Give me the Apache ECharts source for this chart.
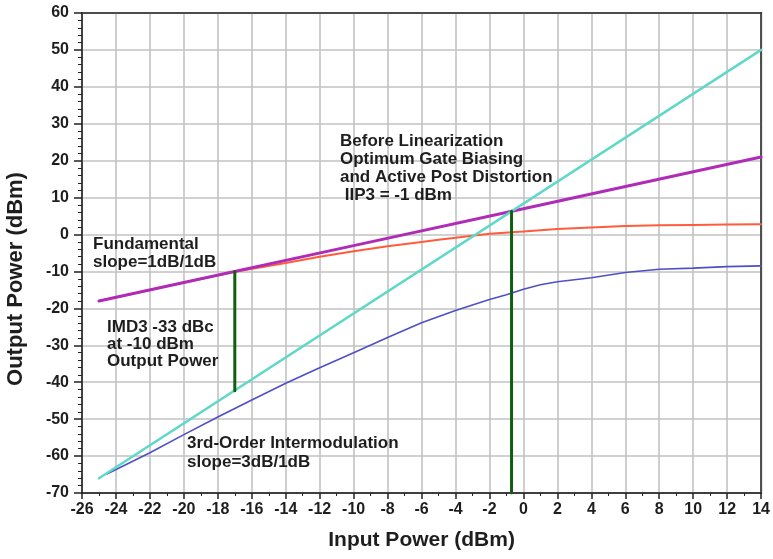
<!DOCTYPE html>
<html>
<head>
<meta charset="utf-8">
<script src="https://cdn.jsdelivr.net/npm/echarts@6/dist/echarts.min.js"></script>
<style>
  html, body { margin: 0; padding: 0; background: #fff; }
  #chart { width: 773px; height: 559px; }
</style>
</head>
<body>
<div id="chart"></div>
<script>
// Input power (dBm) sample points and output power (dBm) for each trace
const fundIdealX = [-25, -20, -10, 0, 10, 14];
const fundIdealY = [-18, -13, -3, 7, 17, 21];

const fundMeasX = [-25, -20, -17, -14, -12, -10, -8, -6, -5, -4, -2, 0, 2, 4, 6, 8, 10, 12, 14];
const fundMeasY = [-18, -13, -10.1, -7.7, -6.0, -4.5, -3.2, -2.0, -1.4, -0.9, 0.2, 0.8, 1.5, 1.9, 2.3, 2.5, 2.6, 2.7, 2.8];

const imd3IdealX = [-25, 14];
const imd3IdealY = [-66, 50];

const imd3MeasX = [-24.5, -22, -20, -18, -16, -14, -12, -10, -8, -6, -4, -2, -1, 0, 1, 2, 4, 6, 8, 10, 12, 14];
const imd3MeasY = [-64.8, -59.1, -54.2, -49.4, -44.8, -40.3, -36.1, -32.0, -27.9, -23.9, -20.6, -17.6, -16.3, -14.8, -13.6, -12.8, -11.7, -10.3, -9.4, -9.1, -8.7, -8.5];

// Vertical markers: IMD3 gap at -17 dBm input, IIP3 intercept at -0.7 dBm input
const imdMarkerX = [-17, -17];
const imdMarkerY = [-10, -42.3];
const iip3MarkerX = [-0.7, -0.7];
const iip3MarkerY = [6.3, -70];

const xTicks = { min: -26, max: 14, step: 2 };
const yTicks = { min: -70, max: 60, step: 10 };

const pairs = (xs, ys) => xs.map((x, i) => [x, ys[i]]);

const FONT = "'Liberation Sans', Arial, sans-serif";
const TXT = '#1e1e1e';

const chart = echarts.init(document.getElementById('chart'), null, { renderer: 'canvas' });

function lineSeries(name, data, color, width, z) {
  return {
    name, type: 'line', data, showSymbol: false, symbol: 'none',
    lineStyle: { color, width, cap: 'round' }, z, animation: false
  };
}

// plain frame edges along the top and right of the plot
function frameAxis(position, range) {
  return {
    type: 'value', position, min: range.min, max: range.max, interval: range.step,
    axisLine: { show: true, onZero: false, lineStyle: { color: '#333', width: 1.5 } },
    axisTick: { show: false }, axisLabel: { show: false }, splitLine: { show: false }
  };
}

chart.setOption({
  backgroundColor: '#fff',
  animation: false,
  grid: {
    left: 82, right: 11, top: 13, bottom: 66,
    show: true, borderColor: '#222', borderWidth: 2, backgroundColor: '#fff'
  },
  xAxis: [{
    type: 'value', min: xTicks.min, max: xTicks.max, interval: xTicks.step,
    axisLine: { show: true, onZero: false, lineStyle: { color: '#222', width: 1.5 } },
    axisTick: { show: true, length: 6, lineStyle: { color: '#222', width: 1.5 } },
    minorTick: { show: true, splitNumber: 2, length: 3, lineStyle: { color: '#222', width: 1 } },
    splitLine: { show: true, lineStyle: { color: '#c2c2c2', width: 1.6 } },
    axisLabel: { color: TXT, fontFamily: FONT, fontWeight: 'bold', fontSize: 16, margin: 9 },
    name: 'Input Power (dBm)', nameLocation: 'middle', nameGap: 37,
    nameTextStyle: { color: TXT, fontFamily: FONT, fontWeight: 'bold', fontSize: 21 }
  }, frameAxis('top', xTicks)],
  yAxis: [{
    type: 'value', min: yTicks.min, max: yTicks.max, interval: yTicks.step,
    axisLine: { show: true, onZero: false, lineStyle: { color: '#222', width: 1.5 } },
    axisTick: { show: true, length: 8, lineStyle: { color: '#222', width: 1.5 } },
    minorTick: { show: true, splitNumber: 5, length: 4, lineStyle: { color: '#222', width: 1 } },
    splitLine: { show: true, lineStyle: { color: '#c2c2c2', width: 1.6 } },
    axisLabel: { color: TXT, fontFamily: FONT, fontWeight: 'bold', fontSize: 16, margin: 13 }
  }, frameAxis('right', yTicks)],
  graphic: [
    {
      type: 'text', x: 16, y: 279, rotation: Math.PI / 2, z: 10,
      style: { text: 'Output Power (dBm)', fill: TXT, font: `bold 22px ${FONT}`, align: 'center', verticalAlign: 'middle' }
    },
    {
      type: 'text', x: 340, y: 132, z: 10,
      style: {
        text: 'Before Linearization\nOptimum Gate Biasing\nand Active Post Distortion\n IIP3 = -1 dBm',
        fill: TXT, font: `bold 17px ${FONT}`, lineHeight: 18, verticalAlign: 'top'
      }
    },
    {
      type: 'text', x: 93, y: 235, z: 10,
      style: { text: 'Fundamental\nslope=1dB/1dB', fill: TXT, font: `bold 17px ${FONT}`, lineHeight: 18, verticalAlign: 'top' }
    },
    {
      type: 'text', x: 107, y: 319, z: 10,
      style: { text: 'IMD3 -33 dBc\nat -10 dBm\nOutput Power', fill: TXT, font: `bold 17px ${FONT}`, lineHeight: 17, verticalAlign: 'top' }
    },
    {
      type: 'text', x: 187, y: 434, z: 10,
      style: { text: '3rd-Order Intermodulation\nslope=3dB/1dB', fill: TXT, font: `bold 17px ${FONT}`, lineHeight: 19, verticalAlign: 'top' }
    }
  ],
  series: [
    lineSeries('Fundamental (measured)', pairs(fundMeasX, fundMeasY), '#ff5c3c', 2, 2),
    lineSeries('Fundamental (1 dB/dB)', pairs(fundIdealX, fundIdealY), '#b02cb6', 3, 3),
    lineSeries('IMD3 (measured)', pairs(imd3MeasX, imd3MeasY), '#4f4fc6', 1.6, 4),
    lineSeries('IMD3 (3 dB/dB)', pairs(imd3IdealX, imd3IdealY), '#5fd8c8', 2.5, 5),
    lineSeries('IMD3 marker', pairs(imdMarkerX, imdMarkerY), '#0f5f12', 3, 6),
    lineSeries('IIP3 marker', pairs(iip3MarkerX, iip3MarkerY), '#0f5f12', 3, 6)
  ]
});
</script>
</body>
</html>
